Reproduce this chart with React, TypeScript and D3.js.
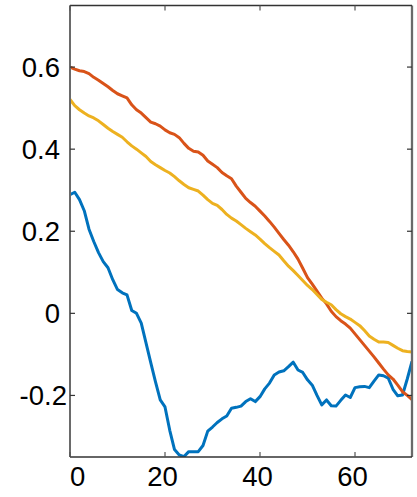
import React, { useEffect, useRef } from 'react';
import * as d3 from 'd3';

// x positions 0..72
const steps = d3.range(0, 73);

const blueSeries = [
  0.289, 0.295, 0.277, 0.25, 0.205, 0.175, 0.148, 0.126, 0.111, 0.082,
  0.058, 0.05, 0.045, 0.007, 0.0, -0.024, -0.072, -0.12, -0.167, -0.211,
  -0.228, -0.285, -0.332, -0.345, -0.349, -0.337, -0.337, -0.337, -0.322, -0.287,
  -0.277, -0.266, -0.257, -0.25, -0.231, -0.229, -0.226, -0.215, -0.208, -0.215,
  -0.203, -0.184, -0.17, -0.15, -0.143, -0.14, -0.13, -0.119, -0.138, -0.144,
  -0.162, -0.175, -0.2, -0.223, -0.211, -0.225, -0.226, -0.212, -0.199, -0.205,
  -0.181, -0.179, -0.178, -0.181, -0.165, -0.15, -0.152, -0.158, -0.185, -0.201,
  -0.199, -0.16, -0.117
];

const orangeSeries = [
  0.6, 0.595, 0.591, 0.589, 0.584, 0.575, 0.568, 0.56, 0.552, 0.543,
  0.535, 0.53, 0.525, 0.508, 0.496, 0.488, 0.477, 0.466, 0.462, 0.456,
  0.447, 0.44, 0.436, 0.428, 0.414, 0.402, 0.395, 0.393, 0.385, 0.371,
  0.363, 0.355, 0.343, 0.335, 0.328, 0.31, 0.295, 0.28, 0.27, 0.261,
  0.249, 0.237, 0.224, 0.21, 0.195, 0.18, 0.166, 0.15, 0.132, 0.11,
  0.087, 0.071, 0.054, 0.037, 0.023, 0.005, -0.008, -0.018, -0.026, -0.036,
  -0.05, -0.064, -0.078, -0.092, -0.106, -0.121, -0.136, -0.15, -0.16, -0.175,
  -0.191, -0.2, -0.21
];

const yellowSeries = [
  0.521, 0.506, 0.496, 0.488, 0.481, 0.476, 0.469, 0.46, 0.451, 0.443,
  0.436, 0.429, 0.418, 0.408, 0.4, 0.391, 0.382, 0.37, 0.362, 0.355,
  0.348, 0.342, 0.333, 0.323, 0.314, 0.306, 0.302, 0.298, 0.288, 0.277,
  0.268, 0.263, 0.253, 0.241, 0.232, 0.225, 0.216, 0.207, 0.199, 0.191,
  0.181, 0.17, 0.16, 0.151, 0.142, 0.128, 0.115, 0.104, 0.092, 0.08,
  0.068, 0.058, 0.046, 0.034, 0.027, 0.021, 0.009, -0.001, -0.008, -0.014,
  -0.022, -0.03, -0.042, -0.055, -0.063, -0.07, -0.07, -0.071, -0.078, -0.085,
  -0.091, -0.093, -0.094
];

const xTicks = [0, 20, 40, 60];
const yTicks = [-0.2, 0, 0.2, 0.4, 0.6];
const yTickLabels = ['-0.2', '0', '0.2', '0.4', '0.6'];

const seriesList = [
  { name: 'blue', values: blueSeries, color: '#0072BD' },
  { name: 'orange', values: orangeSeries, color: '#D95319' },
  { name: 'yellow', values: yellowSeries, color: '#EDB120' },
];

export default function App() {
  const ref = useRef<SVGSVGElement | null>(null);

  useEffect(() => {
    document.body.style.margin = '0';
    const w = 417;
    const h = 497;
    const left = 70, right = 412, top = 5.5, bottom = 457;

    const svg = d3.select(ref.current);
    svg.selectAll('*').remove();

    const x = d3.scaleLinear().domain([0, 72]).range([left, right]);
    const y = d3.scaleLinear().domain([-0.35, 0.75]).range([bottom, top]);

    svg.append('defs').append('clipPath').attr('id', 'plotclip')
      .append('rect')
      .attr('x', left).attr('y', top)
      .attr('width', right - left).attr('height', bottom - top);

    const line = d3.line<number>()
      .x((d, i) => x(steps[i]))
      .y(d => y(d));

    const g = svg.append('g').attr('clip-path', 'url(#plotclip)');
    seriesList.forEach(s => {
      g.append('path')
        .datum(s.values)
        .attr('d', line)
        .attr('fill', 'none')
        .attr('stroke', s.color)
        .attr('stroke-width', 3)
        .attr('stroke-linejoin', 'round');
    });

    // box
    svg.append('line').attr('x1', left).attr('x2', left).attr('y1', top).attr('y2', bottom)
      .attr('stroke', '#6a6a6a').attr('stroke-width', 2);
    svg.append('line').attr('x1', right).attr('x2', right).attr('y1', top).attr('y2', bottom)
      .attr('stroke', '#6a6a6a').attr('stroke-width', 2.3);
    svg.append('line').attr('x1', left).attr('x2', right).attr('y1', top).attr('y2', top)
      .attr('stroke', '#333').attr('stroke-width', 1.5);
    svg.append('line').attr('x1', left).attr('x2', right).attr('y1', bottom).attr('y2', bottom)
      .attr('stroke', '#333').attr('stroke-width', 1.5);

    // ticks pointing inward
    const tk = 5;
    yTicks.forEach((t, i) => {
      svg.append('line').attr('x1', left).attr('x2', left + tk).attr('y1', y(t)).attr('y2', y(t))
        .attr('stroke', '#333').attr('stroke-width', 1.2);
      svg.append('line').attr('x1', right).attr('x2', right - tk).attr('y1', y(t)).attr('y2', y(t))
        .attr('stroke', '#333').attr('stroke-width', 1.2);
      svg.append('text')
        .attr('x', t < 0 ? 67 : 60).attr('y', y(t))
        .attr('dy', '0.35em')
        .attr('text-anchor', 'end')
        .attr('font-family', '"Liberation Sans", Arial, sans-serif')
        .attr('font-size', 27.5)
        .attr('fill', '#000')
        .text(yTickLabels[i]);
    });
    xTicks.forEach(t => {
      svg.append('line').attr('x1', x(t)).attr('x2', x(t)).attr('y1', bottom).attr('y2', bottom - tk)
        .attr('stroke', '#555').attr('stroke-width', 1.2);
      svg.append('line').attr('x1', x(t)).attr('x2', x(t)).attr('y1', top).attr('y2', top + tk)
        .attr('stroke', '#555').attr('stroke-width', 1.2);
      svg.append('text')
        .attr('x', t === 0 ? x(t) : x(t) - 2.5).attr('y', 486)
        .attr('text-anchor', t === 0 ? 'start' : 'middle')
        .attr('font-family', '"Liberation Sans", Arial, sans-serif')
        .attr('font-size', 27.5)
        .attr('fill', '#000')
        .text(String(t));
    });

    svg.attr('width', w).attr('height', h);
  }, []);

  return (
    <svg ref={ref} width={417} height={497} style={{ display: 'block', background: '#fff' }}></svg>
  );
}
